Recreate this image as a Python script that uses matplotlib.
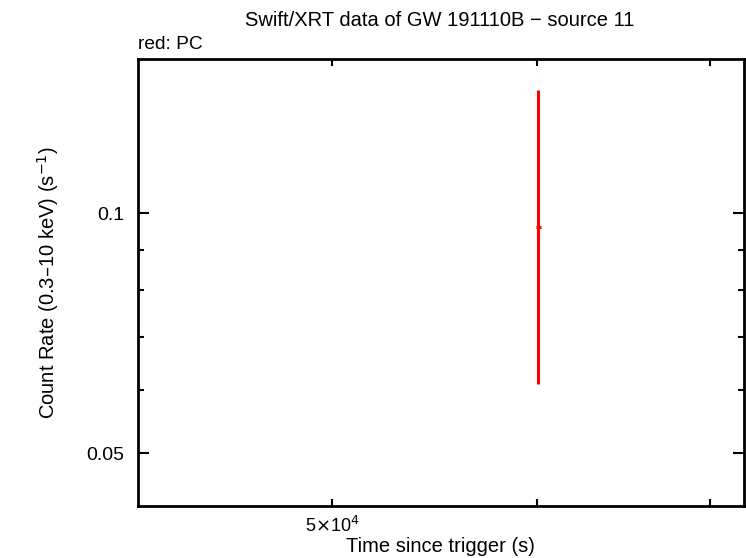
import matplotlib
matplotlib.use("Agg")
import matplotlib.pyplot as plt
from matplotlib.ticker import FixedLocator, NullFormatter, FixedFormatter

plt.rcParams['font.family'] = ['Liberation Sans', 'DejaVu Sans']

# PC mode data point
t = [60100.0]
t_err = [140.0]
rate = [0.0960]
rate_lo = [0.0960 - 0.0610]
rate_hi = [0.1427 - 0.0960]

xticks_major = [5e4, 6e4, 7e4]
xtick_labels = [r'5$\times$10$^4$', '', '']
yticks_major = [0.05, 0.1]
ytick_labels = ['0.05', '0.1']
yticks_minor = [0.06, 0.07, 0.08, 0.09]

fig = plt.figure(figsize=(7.46, 5.58), dpi=100)
ax = fig.add_axes([0.185, 0.093, 0.812, 0.801])

ax.errorbar(t, rate, xerr=[t_err, t_err], yerr=[rate_lo, rate_hi],
            fmt='none', ecolor='#ff0000', elinewidth=2.2, capsize=0)

ax.set_xscale('log')
ax.set_yscale('log')
ax.set_xlim(42060, 72170)
ax.set_ylim(0.0429, 0.156)

ax.xaxis.set_major_locator(FixedLocator(xticks_major))
ax.xaxis.set_major_formatter(FixedFormatter(xtick_labels))
ax.xaxis.set_minor_locator(FixedLocator([]))
ax.xaxis.set_minor_formatter(NullFormatter())
ax.yaxis.set_major_locator(FixedLocator(yticks_major))
ax.yaxis.set_major_formatter(FixedFormatter(ytick_labels))
ax.yaxis.set_minor_locator(FixedLocator(yticks_minor))
ax.yaxis.set_minor_formatter(NullFormatter())

ax.tick_params(which='both', direction='in', top=True, right=True, width=1.5)
ax.tick_params(axis='y', which='major', length=8, labelsize=14, pad=10)
ax.tick_params(axis='x', which='major', length=5, labelsize=13, pad=7)
ax.tick_params(which='minor', length=4)
for s in ax.spines.values():
    s.set_linewidth(2)

ax.set_xlabel('Time since trigger (s)', fontsize=14.5, labelpad=1)
ax.set_ylabel('Count Rate (0.3\u201310 keV) (s$^{-1}$)', fontsize=14.5, labelpad=18)
fig.text(0.589, 0.963, 'Swift/XRT data of GW 191110B \u2212 source 11', ha='center', va='center', fontsize=14.5)
fig.text(0.185, 0.921, 'red: PC', ha='left', va='center', fontsize=13.8)

fig.savefig('out.png', dpi=100)
